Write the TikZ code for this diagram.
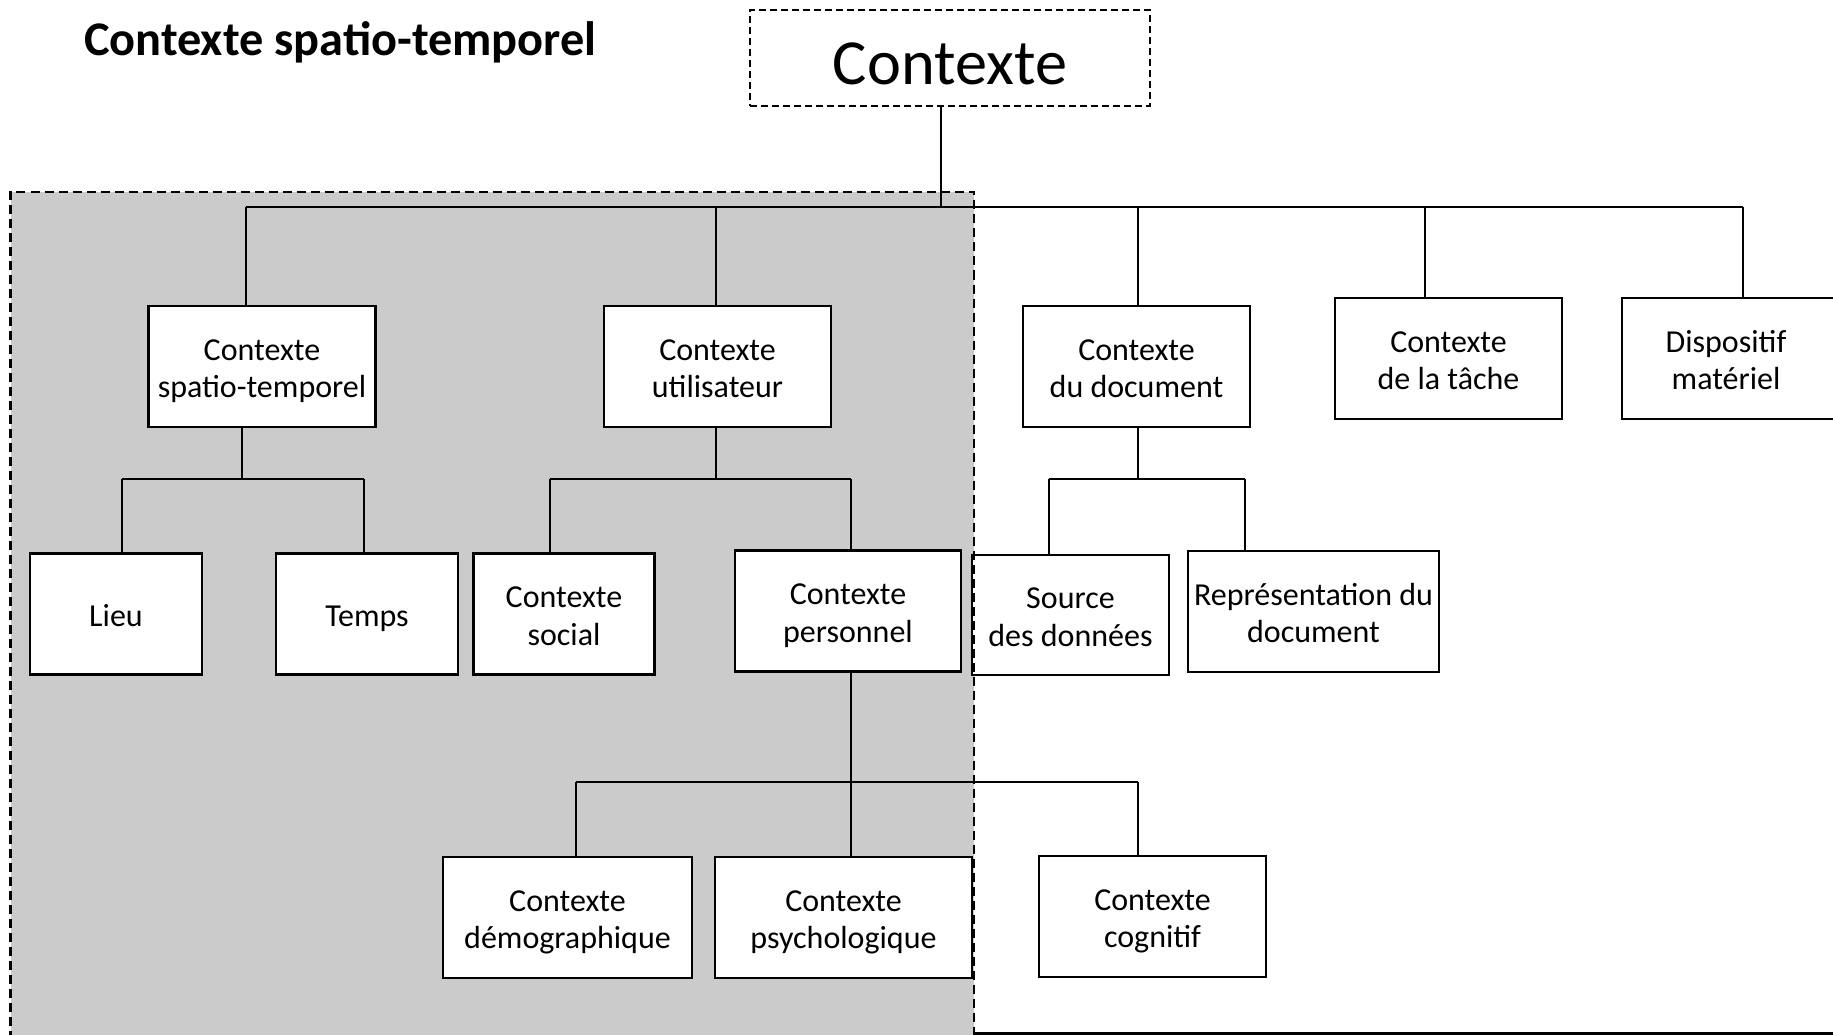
\documentclass[tikz,border=0pt]{standalone}
\usepackage{fontspec}
\setmainfont{Carlito}
\definecolor{zonegray}{RGB}{203,203,203}
\newcommand{\mystrut}{\rule[-6.3pt]{0pt}{37.5pt}}
\begin{document}
\begin{tikzpicture}[x=1pt,y=-1pt,
  box/.style={draw, line width=2.5pt, fill=white, inner sep=0pt, align=center,
    font=\fontsize{32}{37.5}\selectfont},
  conn/.style={line width=2pt},
  zone/.style={line width=2.5pt, dash pattern=on 9pt off 5pt}]
\useasboundingbox (0,0) rectangle (1833,1035);
\fill[white] (0,0) rectangle (1833,1035);
% grey zone
\fill[zonegray] (10.5,192) rectangle (974,1040);
% title
\node[anchor=base west, inner sep=0pt, font=\bfseries\fontsize{48.3}{52}\selectfont] (title) at (84,55.5) {Contexte spatio-temporel};
% top
\node[box, dash pattern=on 7pt off 4pt, line width=1.6pt, minimum width=400, minimum height=96,
  font=\fontsize{64.3}{70}\selectfont] (top) at (950,58) {\rule[-11.4pt]{0pt}{75.4pt}Contexte};
% level 1
\node[box, minimum width=227, minimum height=121] (st) at (262,366.5) {\mystrut Contexte\\\mystrut spatio-temporel};
\node[box, minimum width=227, minimum height=121] (ut) at (717.5,366.5) {\mystrut Contexte\\\mystrut utilisateur};
\node[box, minimum width=227, minimum height=121] (doc) at (1136.5,366.5) {\mystrut Contexte\\\mystrut du document};
\node[box, minimum width=227, minimum height=121] (tache) at (1448.5,358.5) {\mystrut Contexte\\\mystrut de la tâche};
\node[box, minimum width=227, minimum height=121] (disp) at (1735.5,358.5) {\mystrut Dispositif\hspace*{19pt}\\\mystrut matériel\hspace*{19pt}};
% level 2
\node[box, minimum width=172, minimum height=121] (lieu) at (116,614) {\mystrut Lieu};
\node[box, minimum width=182, minimum height=121] (temps) at (367,614) {\mystrut Temps};
\node[box, minimum width=181, minimum height=121] (social) at (564,614) {\mystrut Contexte\\\mystrut social};
\node[box, minimum width=226, minimum height=121] (perso) at (848,611) {\mystrut Contexte\\\mystrut personnel};
\node[box, minimum width=197, minimum height=120] (source) at (1070.5,615) {\mystrut Source\\\mystrut des données};
\node[box, minimum width=251, minimum height=121] (repr) at (1313.5,611.5) {\mystrut Représentation du\\\mystrut document};
% level 3
\node[box, minimum width=249, minimum height=121] (demo) at (567.5,917.5) {\mystrut Contexte\\\mystrut démographique};
\node[box, minimum width=257, minimum height=121] (psy) at (843.5,917.5) {\mystrut Contexte\\\mystrut psychologique};
\node[box, minimum width=227, minimum height=121] (cog) at (1152.5,916.5) {\mystrut Contexte\\\mystrut cognitif};
% grey zone border
\draw[zone] (10.5,1040) -- (10.5,192) -- (974,192) -- (974,1040);
\draw[line width=2.5pt] (974,1033.5) -- (1840,1033.5);
% main bus
\coordinate (bus) at (941,207);
\coordinate (b1) at (245.5,207);
\coordinate (b2) at (715.5,207);
\coordinate (b3) at (1137.5,207);
\coordinate (b4) at (1425,207);
\coordinate (b5) at (1743,207);
\draw[conn] (top.south -| bus) -- (bus);
\draw[conn] (b1) -- (b5);
\draw[conn] (b1) -- (b1 |- st.north);
\draw[conn] (b2) -- (b2 |- ut.north);
\draw[conn] (b3) -- (b3 |- doc.north);
\draw[conn] (b4) -- (b4 |- tache.north);
\draw[conn] (b5) -- (b5 |- disp.north);
% spatio-temporel
\coordinate (s0) at (242,479);
\coordinate (s1) at (121.5,479);
\coordinate (s2) at (363.5,479);
\draw[conn] (st.south -| s0) -- (s0);
\draw[conn] (s1) -- (s2);
\draw[conn] (s1) -- (s1 |- lieu.north);
\draw[conn] (s2) -- (s2 |- temps.north);
% utilisateur
\coordinate (u0) at (715.5,479);
\coordinate (u1) at (549.5,479);
\coordinate (u2) at (851,479);
\draw[conn] (ut.south -| u0) -- (u0);
\draw[conn] (u1) -- (u2);
\draw[conn] (u1) -- (u1 |- social.north);
\draw[conn] (u2) -- (u2 |- perso.north);
% document
\coordinate (d0) at (1137.5,479);
\coordinate (d1) at (1048.5,479);
\coordinate (d2) at (1245,479);
\draw[conn] (doc.south -| d0) -- (d0);
\draw[conn] (d1) -- (d2);
\draw[conn] (d1) -- (d1 |- source.north);
\draw[conn] (d2) -- (d2 |- repr.north);
% personnel
\coordinate (p0) at (851,781.5);
\coordinate (p1) at (576,781.5);
\coordinate (p3) at (1137.7,781.5);
\draw[conn] (perso.south -| p0) -- (p0);
\draw[conn] (p1) -- (p3);
\draw[conn] (p1) -- (p1 |- demo.north);
\draw[conn] (p0) -- (p0 |- psy.north);
\draw[conn] (p3) -- (p3 |- cog.north);
\end{tikzpicture}
\end{document}
